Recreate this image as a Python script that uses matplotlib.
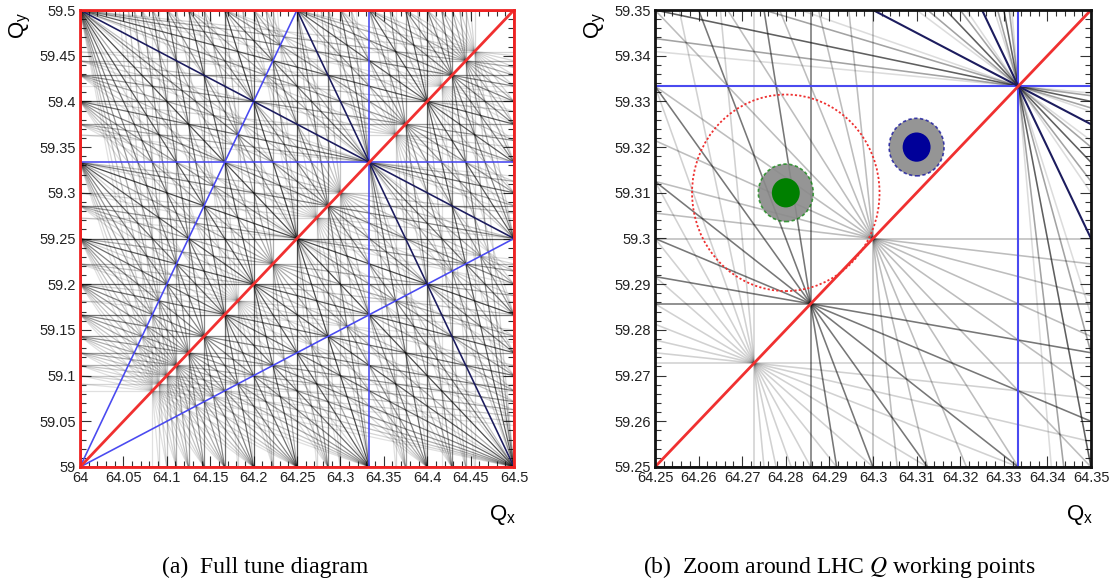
import math
import matplotlib
matplotlib.use("Agg")
import matplotlib.pyplot as plt
from matplotlib.collections import LineCollection
from matplotlib.patches import Ellipse
from matplotlib.ticker import MultipleLocator

# ---------------- data ----------------
full_qx = [64.0, 64.5]
full_qy = [59.0, 59.5]
zoom_qx = [64.25, 64.35]
zoom_qy = [59.25, 59.35]
max_order = 12
# working points (injection, collision)
wp_injection = (64.28, 59.31)
wp_collision = (64.31, 59.32)
footprint_core_r = 0.0032
footprint_halo_r = 0.0063
dynamic_aperture_r = 0.0215
caption_a = "(a)  Full tune diagram"

# ---------------- style ----------------
order_alpha = {4: 0.82, 5: 0.74, 6: 0.66, 7: 0.56, 8: 0.47, 9: 0.38, 10: 0.27, 11: 0.19, 12: 0.14}
plt.rcParams['font.family'] = ['Liberation Sans', 'DejaVu Sans']
plt.rcParams['mathtext.fontset'] = 'custom'
plt.rcParams['mathtext.rm'] = 'Liberation Sans'
plt.rcParams['mathtext.it'] = 'Liberation Sans'


def resonance_lines(xr, yr, order, sum_only):
    """Resonance lines m*Qx + n*Qy = p of given order crossing the box."""
    out = []
    for m in range(-order, order + 1):
        n = order - abs(m)
        if n == 0 and m < 0:
            continue
        if sum_only and m < 0:
            continue
        vals = [m * x + n * y for x in xr for y in yr]
        lo, hi = math.ceil(min(vals) - 1e-9), math.floor(max(vals) + 1e-9)
        for p in range(lo, hi + 1):
            if math.gcd(math.gcd(abs(m), n), abs(p)) > 1:
                continue
            out.append((m, n, p))
    return out


def seg(m, n, p, xr, yr):
    if n == 0:
        x = p / m
        return [(x, yr[0] - 1), (x, yr[1] + 1)]
    x0, x1 = xr[0] - 1, xr[1] + 1
    return [(x0, (p - m * x0) / n), (x1, (p - m * x1) / n)]


def draw_diagram(ax, xr, yr, lw, alpha_scale):
    for order in range(max_order, 0, -1):
        if order >= 4:
            lines = resonance_lines(xr, yr, order, True)
            segs = [seg(m, n, p, xr, yr) for m, n, p in lines]
            a = min(1.0, order_alpha[order] * alpha_scale)
            ax.add_collection(LineCollection(segs, colors=(0.05, 0.05, 0.05, a),
                                             linewidths=lw, zorder=2))
        elif order == 3:
            lines = resonance_lines(xr, yr, order, False)
            s_sum, s_diff = [], []
            for m, n, p in lines:
                (s_sum if (m > 0 and n > 0) else s_diff).append(seg(m, n, p, xr, yr))
            ax.add_collection(LineCollection(s_diff, colors='#4a4af0', linewidths=max(lw * 1.3, 1.1), zorder=3))
            ax.add_collection(LineCollection(s_sum, colors='#1c1c5e', linewidths=max(lw * 1.3, 1.1), zorder=3))
        else:
            lines = resonance_lines(xr, yr, order, False)
            segs = [seg(m, n, p, xr, yr) for m, n, p in lines]
            ax.add_collection(LineCollection(segs, colors='#f03030', linewidths=2.0, zorder=4))
    ax.set_xlim(xr)
    ax.set_ylim(yr)


def fmt(v, pos):
    return f"{v:.2f}".rstrip('0').rstrip('.')


def style_axes(ax, spine_color, major, minor):
    for s in ax.spines.values():
        s.set_color(spine_color)
        s.set_linewidth(2.0)
        s.set_zorder(6)
    ax.xaxis.set_major_locator(MultipleLocator(major))
    ax.yaxis.set_major_locator(MultipleLocator(major))
    ax.xaxis.set_minor_locator(MultipleLocator(minor))
    ax.yaxis.set_minor_locator(MultipleLocator(minor))
    ax.tick_params(which='both', direction='in', top=True, right=True, color='#333333',
                   labelsize=10.5, width=0.8, labelcolor='#222222')
    ax.tick_params(which='major', length=8, pad=3)
    ax.tick_params(which='minor', length=4)
    ax.xaxis.set_major_formatter(plt.FuncFormatter(fmt))
    ax.yaxis.set_major_formatter(plt.FuncFormatter(fmt))


W, H = 1117, 585
fig = plt.figure(figsize=(W / 100, H / 100), dpi=100)
ax1 = fig.add_axes([80 / W, 1 - 467 / H, 434 / W, 457 / H])
ax2 = fig.add_axes([655 / W, 1 - 467 / H, 436 / W, 457 / H])

draw_diagram(ax1, full_qx, full_qy, 0.9, 0.9)
style_axes(ax1, '#ee2222', 0.05, 0.01)
draw_diagram(ax2, zoom_qx, zoom_qy, 1.15, 1.0)
style_axes(ax2, '#111111', 0.01, 0.002)

# working points in zoom
for (cx, cy), col in [(wp_injection, '#008000'), (wp_collision, '#000099')]:
    ax2.add_patch(Ellipse((cx, cy), 2 * footprint_halo_r, 2 * footprint_halo_r, facecolor='#8a8a8a',
                          edgecolor='none', alpha=0.9, hatch='++++', zorder=7))
    ax2.add_patch(Ellipse((cx, cy), 2 * footprint_halo_r, 2 * footprint_halo_r, facecolor='none',
                          edgecolor=col, linestyle=(0, (2, 1.5)), linewidth=1.2, alpha=0.7, zorder=8))
    ax2.add_patch(Ellipse((cx, cy), 2 * footprint_core_r, 2 * footprint_core_r, facecolor=col,
                          edgecolor='none', zorder=9))
ax2.add_patch(Ellipse(wp_injection, 2 * dynamic_aperture_r, 2 * dynamic_aperture_r, facecolor='none',
                      edgecolor='#ee3030', linestyle=(0, (1.2, 1.2)), linewidth=1.3, zorder=8))

# axis titles (ROOT style)
for xr_px in (514, 1091):
    fig.text((xr_px - 25) / W, 1 - 515 / H, "Q$_\\mathregular{x}$", fontsize=16, ha='left', va='center')
for xl_px in (80, 655):
    fig.text((xl_px - 60) / W, 1 - 25 / H, "Q$_\\mathregular{y}$", fontsize=16, rotation=90,
             ha='center', va='center')

# captions
serif = ['Liberation Serif', 'DejaVu Serif']
fig.text(265 / W, 1 - 567 / H, caption_a, fontsize=17, ha='center', va='center', family=serif)
fig.text(643 / W, 1 - 567 / H, "(b)  Zoom around LHC $\\mathit{Q}$ working points", fontsize=17,
         ha='left', va='center', family=serif, math_fontfamily='stix')

fig.savefig("out.png", dpi=100)
